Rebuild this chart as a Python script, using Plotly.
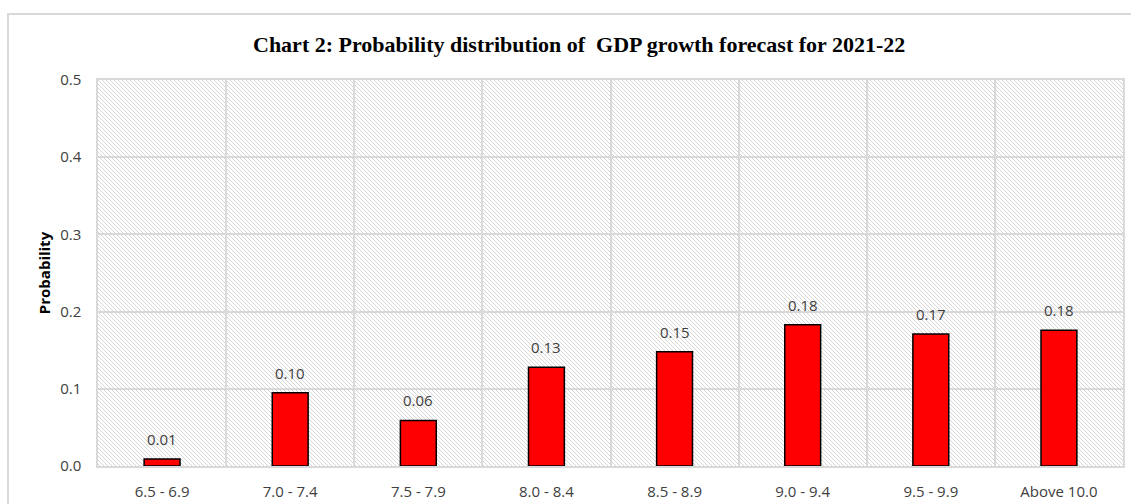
import base64
import plotly.graph_objects as go

categories = ["6.5 - 6.9", "7.0 - 7.4", "7.5 - 7.9", "8.0 - 8.4", "8.5 - 8.9",
              "9.0 - 9.4", "9.5 - 9.9", "Above 10.0"]
probabilities = [0.009, 0.095, 0.059, 0.128, 0.148, 0.183, 0.171, 0.176]
labels = ["0.01", "0.10", "0.06", "0.13", "0.15", "0.18", "0.17", "0.18"]
y_ticks = [0.0, 0.1, 0.2, 0.3, 0.4, 0.5]
y_tick_text = ["0.0", "0.1", "0.2", "0.3", "0.4", "0.5"]

W, H = 1131, 504
ML, MR, MT, MB = 98, 8, 80, 38
PW, PH = W - ML - MR, H - MT - MB

# hatch background for the plot area
svg = (
    f'<svg xmlns="http://www.w3.org/2000/svg" width="{PW}" height="{PH}" viewBox="0 0 {PW} {PH}">'
    '<defs><pattern id="h" width="4" height="4" patternUnits="userSpaceOnUse">'
    '<path d="M-1,-1 L5,5 M-1,3 L1,5 M3,-1 L5,1" stroke="#d6d6d6" stroke-width="1"/>'
    '</pattern></defs>'
    f'<rect width="{PW}" height="{PH}" fill="#ffffff"/>'
    f'<rect width="{PW}" height="{PH}" fill="url(#h)"/></svg>'
)
svg_uri = "data:image/svg+xml;base64," + base64.b64encode(svg.encode()).decode()

FONT = "Open Sans, sans-serif"

fig = go.Figure()
fig.add_trace(go.Bar(
    x=categories, y=probabilities,
    marker=dict(color="#ff0000", line=dict(color="#000000", width=1.5)),
    width=0.28, hoverinfo="x+y",
))

for c, v, t in zip(categories, probabilities, labels):
    fig.add_annotation(x=c, y=v, text=t, showarrow=False, yanchor="bottom",
                       yshift=8, font=dict(family=FONT, size=15, color="#404040"))

grid = "#d9d9d9"
fig.update_layout(
    width=W, height=H,
    margin=dict(l=ML, r=MR, t=MT, b=MB),
    paper_bgcolor="#ffffff",
    plot_bgcolor="rgba(0,0,0,0)",
    showlegend=False,
    images=[dict(source=svg_uri, xref="paper", yref="paper", x=0, y=1,
                 sizex=1, sizey=1, xanchor="left", yanchor="top",
                 sizing="stretch", layer="below")],
    xaxis=dict(type="category", tickson="boundaries", showgrid=True, gridcolor=grid,
               gridwidth=1.5, showline=True, linecolor=grid, linewidth=1.5, mirror=True,
               ticks="", ticklabelstandoff=11, automargin=False,
               tickfont=dict(family=FONT, size=15, color="#404040")),
    yaxis=dict(range=[0, 0.5], tickvals=y_ticks, ticktext=y_tick_text,
               showgrid=True, gridcolor=grid, gridwidth=1.5, zeroline=False,
               showline=True, linecolor=grid, linewidth=1.5, mirror=True,
               ticks="", ticklabelstandoff=12, automargin=False,
               tickfont=dict(family=FONT, size=15, color="#404040"),
               title=dict(text="<b>Probability</b>", standoff=6,
                          font=dict(family=FONT, size=15, color="#000000"))),
    shapes=[dict(type="rect", xref="paper", yref="paper",
                 x0=(8 - ML) / PW, x1=(W + 10 - ML) / PW,
                 y0=-(MB + 10) / PH, y1=1 + (MT - 14) / PH,
                 line=dict(color=grid, width=2), fillcolor="rgba(0,0,0,0)", layer="below")],
    annotations=list(fig.layout.annotations) + [dict(
        text="<b>Chart 2: Probability distribution of&nbsp; GDP growth forecast for 2021-22</b>",
        xref="paper", yref="paper", x=(579 - ML) / PW, y=1 + (MT - 44) / PH,
        xanchor="center", yanchor="middle", showarrow=False,
        font=dict(family="Liberation Serif, serif", size=22, color="#000000"))],
)

fig.write_html("out.html", config={"displayModeBar": False},
               post_script="document.body.style.margin='0';")
